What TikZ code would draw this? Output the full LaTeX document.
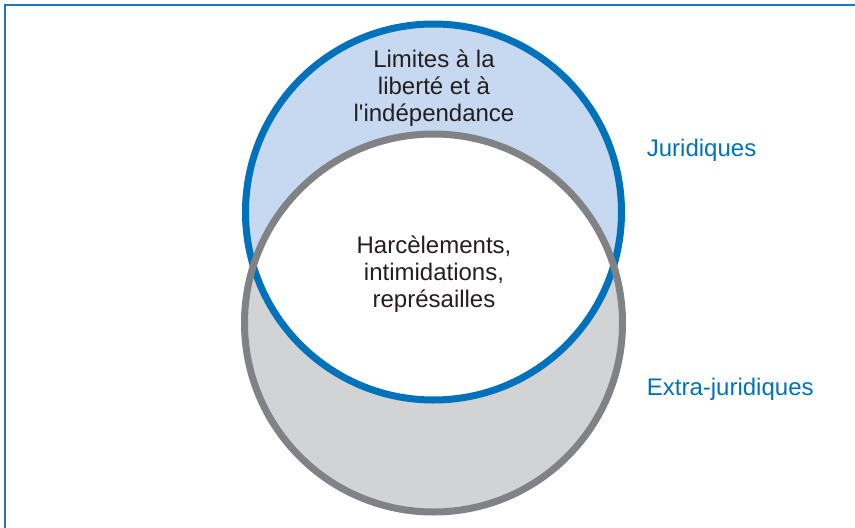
\documentclass[tikz,border=0pt]{standalone}
\usepackage{fontspec}
\newfontfamily\lsans{Liberation Sans}
\definecolor{jblue}{HTML}{0072BC}
\definecolor{jlight}{HTML}{C6D9F0}
\definecolor{egray}{HTML}{808285}
\definecolor{elight}{HTML}{D1D3D4}
\definecolor{txt}{HTML}{231F20}
\definecolor{frame}{HTML}{1F78BE}
\begin{document}
\begin{tikzpicture}[x=1pt,y=-1pt,
  ring/.style={circle, inner sep=0pt, outer sep=0pt, line width=7pt},
  body/.style={text=txt, align=center, inner sep=0pt, font=\lsans\fontsize{24}{27}\selectfont},
  side/.style={text=jblue, inner sep=0pt, anchor=base west, font=\lsans\fontsize{24}{27}\selectfont}]
\useasboundingbox (0,0) rectangle (855,528);
% frame
\coordinate (fa) at (5.2,528);
\coordinate (fb) at (5.2,5.2);
\coordinate (fc) at (855,5.2);
\draw[frame, line width=1.8pt] (fa) -- (fb) -- (fc);
% fills
\fill[jlight] (433.5,212) circle[radius=188];
\fill[elight] (433.5,323) circle[radius=189];
\begin{scope}
  \clip (433.5,212) circle[radius=188];
  \fill[white] (433.5,323) circle[radius=189];
\end{scope}
% rings
\node[ring, draw=jblue, minimum size=376pt] (jur) at (433.5,212) {};
\node[ring, draw=egray, minimum size=378pt] (ext) at (433.5,323) {};
% texts
\node[body] (lim) at (434,87.7) {Limites à la\\liberté et à\\l'indépendance};
\node[body] (har) at (434,274) {Harcèlements,\\intimidations,\\représailles};
\node[side] (lj) at (646.7,156.7) {Juridiques};
\node[side] (le) at (646.7,395) {Extra-juridiques};
\end{tikzpicture}
\end{document}
